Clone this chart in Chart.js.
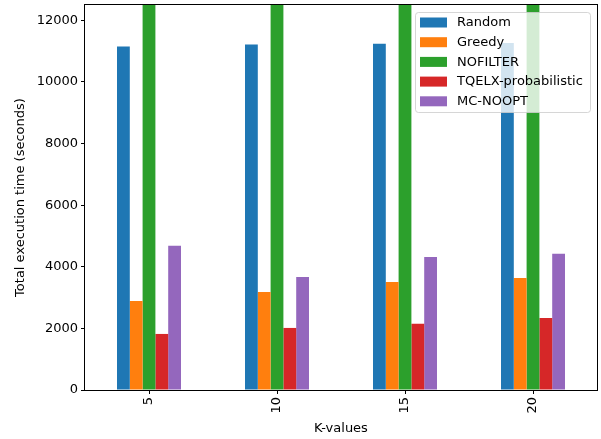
<!DOCTYPE html>
<html>
<head>
<meta charset="utf-8">
<script src="https://cdn.jsdelivr.net/npm/chart.js@4/dist/chart.umd.min.js"></script>
<style>
html,body{margin:0;padding:0;background:#fff;}
#wrap{width:601px;height:439px;position:relative;}
</style>
</head>
<body>
<div id="wrap"><canvas id="c" width="601" height="439"></canvas></div>
<script>
const categories = ['5', '10', '15', '20'];
const randomVals = [11150, 11220, 11245, 11270];
const greedyVals = [2890, 3185, 3510, 3640];
const nofilterVals = [14000, 14000, 14000, 14000];
const tqelxVals = [1820, 2015, 2155, 2340];
const mcNooptVals = [4680, 3670, 4320, 4420];
const seriesNames = ['Random', 'Greedy', 'NOFILTER', 'TQELX-probabilistic', 'MC-NOOPT'];
const seriesColors = ['#1f77b4', '#ff7f0e', '#2ca02c', '#d62728', '#9467bd'];
const yTicks = [0, 2000, 4000, 6000, 8000, 10000, 12000];
const FONT = "'DejaVu Sans', sans-serif";

const allVals = [randomVals, greedyVals, nofilterVals, tqelxVals, mcNooptVals];

const framePlugin = {
  id: 'frame',
  afterDatasetsDraw(chart) {
    const ctx = chart.ctx, a = chart.chartArea;
    ctx.save();
    ctx.strokeStyle = '#000';
    ctx.lineWidth = 1;
    ctx.strokeRect(Math.round(a.left) - 0.5, Math.round(a.top) - 0.5, Math.round(a.right - a.left) + 1, Math.round(a.bottom - a.top) + 1);
    ctx.restore();
  }
};

const legendPlugin = {
  id: 'innerLegend',
  afterDraw(chart) {
    const ctx = chart.ctx;
    const x0 = 415.5, y0 = 12.5, w = 175, h = 100, r = 3;
    ctx.save();
    ctx.beginPath();
    ctx.moveTo(x0 + r, y0);
    ctx.arcTo(x0 + w, y0, x0 + w, y0 + h, r);
    ctx.arcTo(x0 + w, y0 + h, x0, y0 + h, r);
    ctx.arcTo(x0, y0 + h, x0, y0, r);
    ctx.arcTo(x0, y0, x0 + w, y0, r);
    ctx.closePath();
    ctx.fillStyle = 'rgba(255,255,255,0.8)';
    ctx.fill();
    ctx.strokeStyle = 'rgba(204,204,204,0.8)';
    ctx.lineWidth = 1;
    ctx.stroke();
    ctx.font = '13px ' + FONT;
    ctx.textBaseline = 'middle';
    chart.data.datasets.forEach((ds, i) => {
      const cy = 22.5 + i * 19.7;
      ctx.fillStyle = ds.backgroundColor;
      ctx.fillRect(420, cy - 5, 27, 10);
      ctx.fillStyle = '#000';
      ctx.fillText(ds.label, 457, cy + 0.5);
    });
    ctx.restore();
  }
};

new Chart(document.getElementById('c'), {
  type: 'bar',
  data: {
    labels: categories,
    datasets: seriesNames.map((n, i) => ({
      label: n,
      data: allVals[i],
      backgroundColor: seriesColors[i],
      borderWidth: 0,
      barPercentage: 1,
      categoryPercentage: 0.5
    }))
  },
  options: {
    responsive: false,
    animation: false,
    devicePixelRatio: 1,
    layout: { padding: { left: 0, top: 5, right: 4, bottom: 0 } },
    plugins: { legend: { display: false }, tooltip: { enabled: false } },
    scales: {
      x: {
        grid: { display: true, offset: false, drawOnChartArea: false, drawTicks: true, tickLength: 4, color: '#000' },
        border: { display: false },
        ticks: { color: '#000', font: { family: FONT, size: 13 }, minRotation: 90, maxRotation: 90, padding: 3 },
        title: { display: true, text: 'K-values', color: '#000', font: { family: FONT, size: 13 }, padding: { top: 0, bottom: 3 } },
        afterFit(s) { s.height = 49; s.paddingLeft = 0; s.paddingRight = 0; }
      },
      y: {
        min: 0, max: 12500,
        afterBuildTicks(s) { s.ticks = yTicks.map(v => ({ value: v })); },
        grid: { display: true, drawOnChartArea: false, drawTicks: true, tickLength: 4, color: '#000' },
        border: { display: false },
        ticks: { color: '#000', font: { family: FONT, size: 13 }, padding: 3, callback: v => String(v) },
        title: { display: true, text: 'Total execution time (seconds)', color: '#000', font: { family: FONT, size: 13 }, padding: { top: 13, bottom: 0 } },
        afterFit(s) { s.width = 85; s.paddingTop = 0; s.paddingBottom = 0; }
      }
    }
  },
  plugins: [framePlugin, legendPlugin]
});
</script>
</body>
</html>
